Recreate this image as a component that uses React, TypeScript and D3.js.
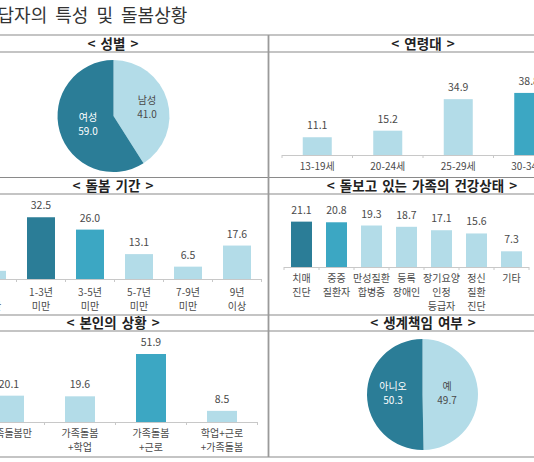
import React, { useEffect, useRef } from 'react';
import * as d3 from 'd3';

// 성별
const genderLabels = ['남성', '여성'];
const genderValues = [41.0, 59.0];

// 연령대
const ageCats = ['13-19세', '20-24세', '25-29세', '30-34세'];
const ageValues = [11.1, 15.2, 34.9, 38.8];

// 돌봄 기간
const periodCats = ['1년\n미만', '1-3년\n미만', '3-5년\n미만', '5-7년\n미만', '7-9년\n미만', '9년\n이상'];
const periodValues = [4.3, 32.5, 26.0, 13.1, 6.5, 17.6];

// 돌보고 있는 가족의 건강상태
const healthCats = ['치매\n진단', '중증\n질환자', '만성질환\n합병증', '등록\n장애인', '장기요양\n인정\n등급자', '정신\n질환\n진단', '기타'];
const healthValues = [21.1, 20.8, 19.3, 18.7, 17.1, 15.6, 7.3];

// 본인의 상황
const selfCats = ['가족돌봄만', '가족돌봄\n+학업', '가족돌봄\n+근로', '학업+근로\n+가족돌봄'];
const selfValues = [20.1, 19.6, 51.9, 8.5];

// 생계책임 여부
const breadLabels = ['예', '아니오'];
const breadValues = [49.7, 50.3];

const DARK = '#2b7d97';
const MID = '#3ca7c3';
const LIGHT = '#b3dce8';
const TEXT = '#4a4a4a';
const FONT = '"Noto Sans CJK KR", "Noto Sans", sans-serif';

type Sel = d3.Selection<SVGGElement, unknown, null, undefined>;

function drawBars(
  parent: Sel,
  cats: string[],
  values: number[],
  colors: string[],
  opt: { x0: number; x1: number; base: number; k: number; barW: number; labelY: number; lineH: number }
) {
  const g = parent.append('g') as Sel;
  const x = d3.scaleBand<string>().domain(cats).range([opt.x0, opt.x1]).padding(0);
  const y = d3.scaleLinear().domain([0, 100]).range([opt.base, opt.base - 100 * opt.k]);

  g.append('line')
    .attr('x1', opt.x0).attr('x2', opt.x1)
    .attr('y1', opt.base + 0.5).attr('y2', opt.base + 0.5)
    .attr('stroke', '#c8c8c8').attr('stroke-width', 1);

  const bounds = cats.map(c => x(c) as number).concat([opt.x1]);
  g.selectAll('line.tick').data(bounds).enter().append('line')
    .attr('class', 'tick')
    .attr('x1', d => d).attr('x2', d => d)
    .attr('y1', opt.base).attr('y2', opt.base + 3)
    .attr('stroke', '#c8c8c8');

  const bw = x.bandwidth();
  g.selectAll('rect.bar').data(values).enter().append('rect')
    .attr('class', 'bar')
    .attr('x', (d, i) => (x(cats[i]) as number) + (bw - opt.barW) / 2)
    .attr('width', opt.barW)
    .attr('y', d => y(d))
    .attr('height', d => opt.base - y(d))
    .attr('fill', (d, i) => colors[i]);

  g.selectAll('text.val').data(values).enter().append('text')
    .attr('class', 'val')
    .attr('x', (d, i) => (x(cats[i]) as number) + bw / 2)
    .attr('y', d => y(d) - 8)
    .attr('text-anchor', 'middle')
    .attr('font-size', 10.5)
    .attr('fill', TEXT)
    .text(d => d.toFixed(1));

  cats.forEach(c => {
    const t = g.append('text')
      .attr('x', (x(c) as number) + bw / 2)
      .attr('y', opt.labelY)
      .attr('text-anchor', 'middle')
      .attr('font-size', 10)
      .attr('fill', TEXT);
    c.split('\n').forEach((line, i) => {
      t.append('tspan')
        .attr('x', (x(c) as number) + bw / 2)
        .attr('dy', i === 0 ? 0 : opt.lineH)
        .text(line);
    });
  });
}

function drawPie(
  parent: Sel,
  labels: string[],
  values: number[],
  colors: string[],
  textColors: string[],
  opt: { cx: number; cy: number; r: number; labelPos: [number, number][] }
) {
  const g = parent.append('g') as Sel;
  const pie = d3.pie<number>().sort(null)(values);
  const arc = d3.arc<d3.PieArcDatum<number>>().innerRadius(0).outerRadius(opt.r);
  const pg = g.append('g').attr('transform', `translate(${opt.cx},${opt.cy})`);
  pg.selectAll('path').data(pie).enter().append('path')
    .attr('d', arc)
    .attr('fill', (d, i) => colors[i]);
  labels.forEach((l, i) => {
    const [lx, ly] = opt.labelPos[i];
    const t = g.append('text')
      .attr('x', lx).attr('y', ly)
      .attr('text-anchor', 'middle')
      .attr('font-size', 10)
      .attr('fill', textColors[i]);
    t.append('tspan').attr('x', lx).text(l);
    t.append('tspan').attr('x', lx).attr('dy', 13.5).text(values[i].toFixed(1));
  });
}

export default function App() {
  const svgRef = useRef<SVGSVGElement>(null);

  useEffect(() => {
    if (!svgRef.current) return;
    const svg = d3.select(svgRef.current);
    svg.selectAll('*').remove();
    const root = svg.append('g').attr('font-family', FONT) as Sel;

    // title
    root.append('text')
      .attr('x', -19).attr('y', 22)
      .attr('font-size', 18)
      .attr('fill', '#333')
      .attr('word-spacing', 4)
      .text('응답자의 특성 및 돌봄상황');

    // grid lines
    const hLines = [35, 52, 177.5, 194, 315, 331, 457];
    root.selectAll('line.grid').data(hLines).enter().append('line')
      .attr('class', 'grid')
      .attr('x1', -50).attr('x2', 600)
      .attr('y1', d => d).attr('y2', d => d)
      .attr('stroke', '#8a8a8a').attr('stroke-width', 1.2);
    root.append('line')
      .attr('x1', 268.5).attr('x2', 268.5).attr('y1', 35).attr('y2', 457)
      .attr('stroke', '#9a9a9a').attr('stroke-width', 1.8);

    // headers
    const headers: [string, number, number][] = [
      ['< 성별 >', 113, 48.5],
      ['< 연령대 >', 423, 48.5],
      ['< 돌봄 기간 >', 113, 190.5],
      ['< 돌보고 있는 가족의 건강상태 >', 422, 190.5],
      ['< 본인의 상황 >', 113, 328],
      ['< 생계책임 여부 >', 423, 328],
    ];
    headers.forEach(([t, x, y]) => {
      root.append('text')
        .attr('x', x).attr('y', y)
        .attr('text-anchor', 'middle')
        .attr('font-size', 13.5)
        .attr('font-weight', 'bold')
        .attr('word-spacing', 2)
        .attr('fill', '#222')
        .text(t);
    });

    drawPie(root, genderLabels, genderValues, [LIGHT, DARK], [TEXT, '#ffffff'], {
      cx: 113.5, cy: 116, r: 56,
      labelPos: [[147, 104], [88, 121]],
    });

    drawBars(root, ageCats, ageValues, [LIGHT, LIGHT, LIGHT, MID], {
      x0: 282, x1: 564, base: 155, k: 1.6, barW: 29, labelY: 170, lineH: 14,
    });

    drawBars(root, periodCats, periodValues, [LIGHT, DARK, MID, LIGHT, LIGHT, LIGHT], {
      x0: -32.5, x1: 261.5, base: 279, k: 1.9, barW: 28, labelY: 296, lineH: 14,
    });

    drawBars(root, healthCats, healthValues, [DARK, MID, LIGHT, LIGHT, LIGHT, LIGHT, LIGHT], {
      x0: 284, x1: 529, base: 267, k: 2.15, barW: 21, labelY: 282, lineH: 14,
    });

    drawBars(root, selfCats, selfValues, [LIGHT, LIGHT, MID, LIGHT], {
      x0: -26.5, x1: 257.5, base: 422, k: 1.31, barW: 30, labelY: 437, lineH: 14,
    });

    drawPie(root, breadLabels, breadValues, [LIGHT, DARK], [TEXT, '#ffffff'], {
      cx: 422.5, cy: 394.5, r: 55.5,
      labelPos: [[447, 390], [393, 390]],
    });
  }, []);

  return (
    <div style={{ position: 'fixed', left: 0, top: 0, width: 534, height: 462, overflow: 'hidden', background: '#fff' }}>
      <svg ref={svgRef} width={534} height={462} style={{ display: 'block' }} />
    </div>
  );
}
